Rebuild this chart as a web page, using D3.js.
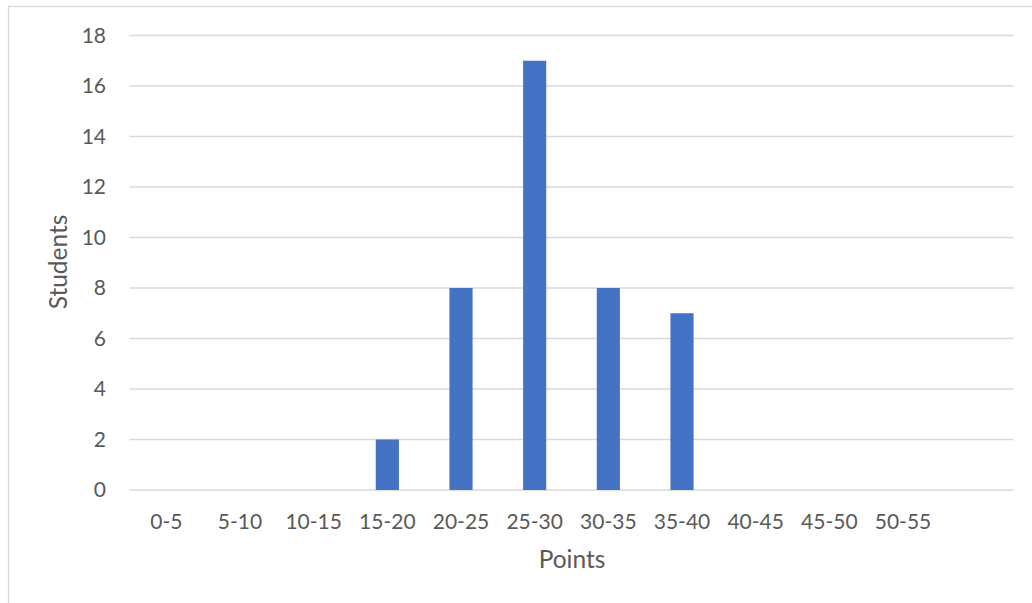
<!DOCTYPE html>
<html>
<head>
<meta charset="utf-8">
<script src="https://cdn.jsdelivr.net/npm/d3@7"></script>
<style>
  html, body { margin: 0; padding: 0; background: #fff; }
  svg { display: block; }
  text { font-family: Lato, "Open Sans", sans-serif; fill: #595959; }
</style>
</head>
<body>
<svg id="chart" width="1032" height="603"></svg>
<script>
// Score bins (the final slot is an unlabeled spare bin)
const categories = ["0-5", "5-10", "10-15", "15-20", "20-25", "25-30", "30-35", "35-40", "40-45", "45-50", "50-55", ""];
const students = [0, 0, 0, 2, 8, 17, 8, 7, 0, 0, 0, 0];
const yTicks = [0, 2, 4, 6, 8, 10, 12, 14, 16, 18];

const svg = d3.select("#chart");
const margin = { left: 129.5, right: 1013.5, top: 35.5, bottom: 490 };

// chart frame
svg.append("rect")
  .attr("x", 8.5).attr("y", 6.5)
  .attr("width", 1040).attr("height", 620)
  .attr("fill", "none").attr("stroke", "#d9d9d9").attr("stroke-width", 1.3);

const x = d3.scaleBand()
  .domain(d3.range(categories.length))
  .range([margin.left, margin.right])
  .paddingInner(0.686).paddingOuter(0.343);

const y = d3.scaleLinear().domain([0, 18]).range([margin.bottom, margin.top]);

// horizontal gridlines
svg.append("g").selectAll("line").data(yTicks).join("line")
  .attr("x1", margin.left).attr("x2", margin.right)
  .attr("y1", d => y(d)).attr("y2", d => y(d))
  .attr("stroke", "#d9d9d9").attr("stroke-width", 1.3);

// y tick labels
const yAxis = d3.axisLeft(y).tickValues(yTicks).tickSize(0).tickPadding(0);
const gy = svg.append("g").attr("transform", "translate(106,0)").call(yAxis)
  .attr("font-size", null).attr("font-family", null);
gy.select(".domain").remove();
gy.selectAll("text").style("font-size", "21px").attr("fill", "#595959");

// bars
svg.append("g").selectAll("rect").data(students).join("rect")
  .attr("x", (d, i) => x(i))
  .attr("width", x.bandwidth())
  .attr("y", d => y(d))
  .attr("height", d => y(0) - y(d))
  .attr("fill", "#4472c4");

// category labels
const xAxis = d3.axisBottom(x).tickFormat(i => categories[i]).tickSize(0).tickPadding(0);
const gx = svg.append("g").attr("transform", "translate(0,514)").call(xAxis)
  .attr("font-size", null).attr("font-family", null);
gx.select(".domain").remove();
gx.selectAll("text").style("font-size", "21px").attr("fill", "#595959");

// axis titles
svg.append("text")
  .attr("x", 572).attr("y", 568)
  .attr("text-anchor", "middle").style("font-size", "24.5px")
  .text("Points");

svg.append("text")
  .attr("transform", "translate(67,262) rotate(-90)")
  .attr("text-anchor", "middle").style("font-size", "24.5px")
  .text("Students");
</script>
</body>
</html>
